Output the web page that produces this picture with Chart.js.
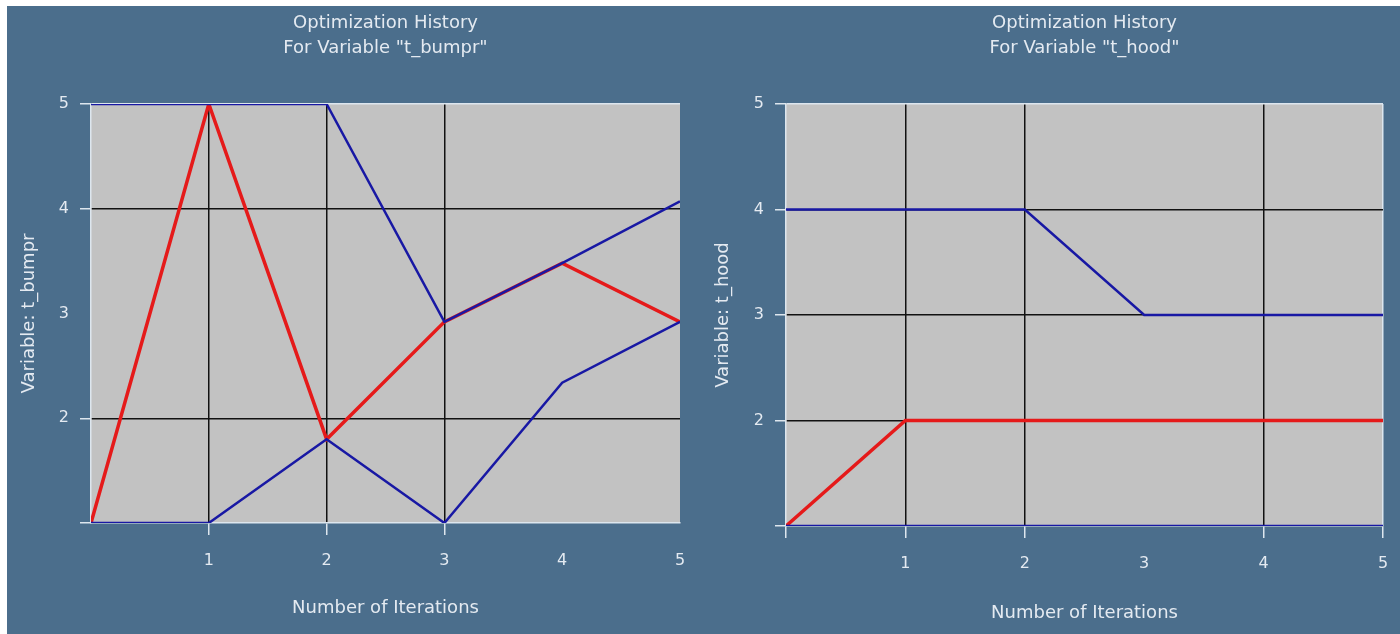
<!DOCTYPE html>
<html>
<head>
<meta charset="utf-8">
<script src="https://cdn.jsdelivr.net/npm/chart.js@4.4.1/dist/chart.umd.min.js"></script>
<style>
  body { margin: 0; background: #fff; width: 1400px; height: 634px; overflow: hidden; position: relative; }
  #panel { position: absolute; left: 7px; top: 6px; width: 1393px; height: 628px; background: #4b6e8c; }
  canvas { position: absolute; top: 6px; }
  #bumpr { left: 7px; }
  #hood { left: 700px; }
</style>
</head>
<body>
<div id="panel"></div>
<canvas id="bumpr" width="693" height="628"></canvas>
<canvas id="hood" width="700" height="628"></canvas>
<script>
// iterations on x, variable value on y
const iterations = [0, 1, 2, 3, 4, 5];
const xTickLabels = ["", "1", "2", "3", "4", "5"];
const yTickLabels = ["", "2", "3", "4", "5"];

// t_bumpr
const bumprRed = [1, 5, 1.8, 2.92, 3.48, 2.92];
const bumprUpper = [5, 5, 5, 2.92, 3.48, 4.07];
const bumprLower = [1, 1, 1.8, 1, 2.34, 2.92];

// t_hood
const hoodRed = [1, 2, 2, 2, 2, 2];
const hoodUpper = [4, 4, 4, 3, 3, 3];
const hoodLower = [1, 1, 1, 1, 1, 1];

const TEXT = "#e4eaf1";
const EDGE = "#dde6ee";
const FONT = "DejaVu Sans";
const NONE = "rgba(0,0,0,0)";

const plotBg = {
    id: "plotBg",
    beforeDraw(chart) {
        const { ctx, chartArea: a } = chart;
        ctx.save();
        ctx.fillStyle = "#c2c2c2";
        ctx.fillRect(a.left, a.top, a.width, a.height);
        ctx.restore();
    }
};

function points(vals) {
    return iterations.map((x, i) => ({ x: x, y: vals[i] }));
}

function makeChart(id, name, red, upper, lower, o) {
    const ctx = document.getElementById(id).getContext("2d");
    return new Chart(ctx, {
        type: "line",
        data: {
            datasets: [
                { data: points(upper), borderColor: "#1818a4", borderWidth: 2.5 },
                { data: points(lower), borderColor: "#1818a4", borderWidth: 2.5 },
                { data: points(red), borderColor: "#e51a1a", borderWidth: 3.5 },
            ],
        },
        options: {
            responsive: false,
            animation: false,
            elements: { point: { radius: 0 }, line: { tension: 0 } },
            layout: { padding: { top: 0, left: 0, bottom: 0, right: o.padRight } },
            plugins: {
                legend: { display: false },
                tooltip: { enabled: false },
                title: {
                    display: true,
                    fullSize: false,
                    text: ["Optimization History", 'For Variable "' + name + '"'],
                    color: TEXT,
                    font: { family: FONT, size: 18, weight: "normal", lineHeight: 25 / 18 },
                    padding: { top: 5, bottom: 43 },
                },
            },
            scales: {
                x: {
                    type: "linear",
                    min: 0,
                    max: 5,
                    afterFit: (s) => {
                        s.height = o.xHeight;
                        // tick padding is otherwise added to the side overflow
                        s.paddingLeft = 0;
                        s.paddingRight = 0;
                    },
                    ticks: {
                        stepSize: 1,
                        color: TEXT,
                        padding: 16,
                        maxRotation: 0,
                        font: { family: FONT, size: 16 },
                        callback: (v) => xTickLabels[iterations.indexOf(v)],
                    },
                    grid: {
                        lineWidth: 1.5,
                        tickLength: 12,
                        tickWidth: 1.5,
                        color: (c) => o.xGrid.includes(c.tick.value) ? "#111" : (c.tick.value === o.xEdge ? EDGE : NONE),
                        tickColor: (c) => o.xMarks.includes(c.tick.value) ? EDGE : NONE,
                    },
                    border: { color: EDGE, width: 1.5 },
                    title: {
                        display: true,
                        text: "Number of Iterations",
                        color: TEXT,
                        font: { family: FONT, size: 18, lineHeight: 1.2 },
                        padding: { top: 0, bottom: o.xTitlePad },
                    },
                },
                y: {
                    min: 1,
                    max: 5,
                    afterFit: (s) => { s.width = o.yWidth; },
                    ticks: {
                        stepSize: 1,
                        color: TEXT,
                        padding: 11,
                        font: { family: FONT, size: 16 },
                        callback: (v) => yTickLabels[v - 1],
                    },
                    grid: {
                        lineWidth: 1.5,
                        tickLength: 11,
                        tickWidth: 1.5,
                        color: (c) => o.yGrid.includes(c.tick.value) ? "#111" : (c.tick.value === 5 ? EDGE : NONE),
                        tickColor: (c) => o.yMarks.includes(c.tick.value) ? EDGE : NONE,
                    },
                    border: { color: EDGE, width: 1.5 },
                    title: {
                        display: true,
                        text: "Variable: " + name,
                        color: TEXT,
                        font: { family: FONT, size: 18, lineHeight: 1.2 },
                        padding: { top: o.yTitlePad, bottom: 0 },
                    },
                },
            },
        },
        plugins: [plotBg],
    });
}

makeChart("bumpr", "t_bumpr", bumprRed, bumprUpper, bumprLower, {
    padRight: 20, xHeight: 111, yWidth: 84, xTitlePad: 15, yTitlePad: 12,
    xGrid: [1, 2, 3], xMarks: [1, 2, 3], xEdge: -1,
    yGrid: [2, 4], yMarks: [1, 2, 4, 5],
});

makeChart("hood", "t_hood", hoodRed, hoodUpper, hoodLower, {
    padRight: 17, xHeight: 108, yWidth: 86, xTitlePad: 10, yTitlePad: 13,
    xGrid: [1, 2, 4], xMarks: [0, 1, 2, 4, 5], xEdge: 5,
    yGrid: [2, 3, 4], yMarks: [1, 2, 3, 4, 5],
});
</script>
</body>
</html>
